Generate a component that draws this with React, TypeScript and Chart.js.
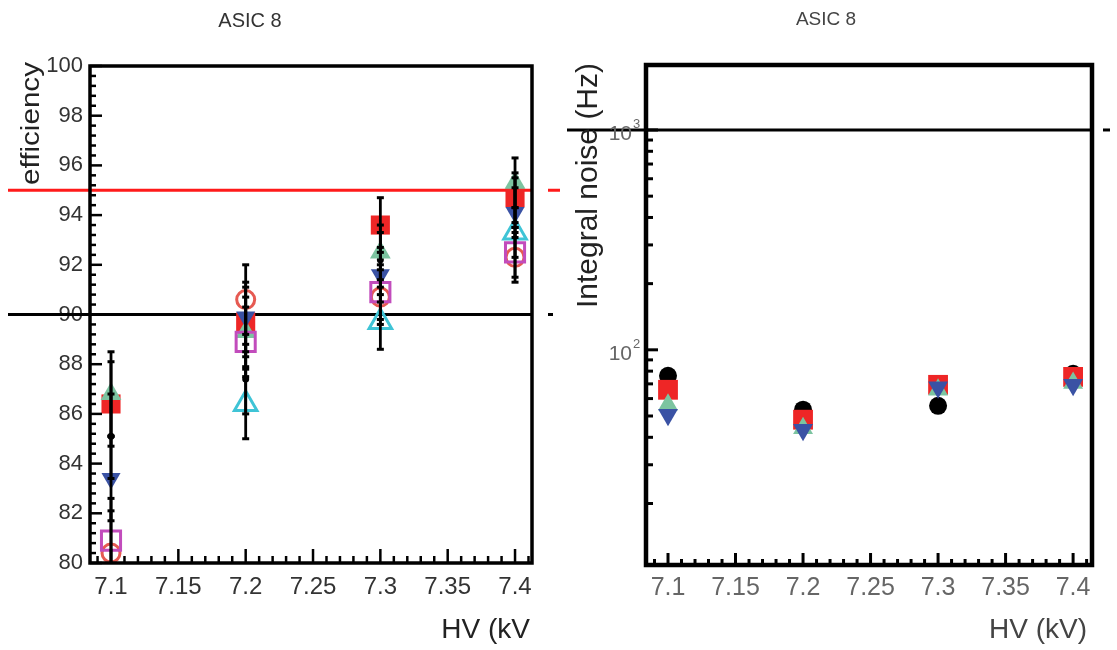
import React, { useEffect, useRef } from "react";
import { Chart, registerables } from "chart.js";

Chart.register(...registerables);

// ---------------- data ----------------
const HV = [7.1, 7.2, 7.3, 7.4];
const X_TICKS = [7.1, 7.15, 7.2, 7.25, 7.3, 7.35, 7.4];
const X_TICK_LABELS = ["7.1", "7.15", "7.2", "7.25", "7.3", "7.35", "7.4"];
const EFF_Y_TICKS = [80, 82, 84, 86, 88, 90, 92, 94, 96, 98, 100];
const EFF_Y_TICK_LABELS = ["80", "82", "84", "86", "88", "90", "92", "94", "96", "98", "100"];

// efficiency (%) per series
const EFF_BLACK = [85.1, 87.4, 92.2, 94.5];
const EFF_RED_SQUARE = [86.4, 89.7, 93.6, 94.7];
const EFF_GREEN_UP = [86.8, 89.3, 92.5, 95.3];
const EFF_BLUE_DOWN = [83.4, 89.9, 91.6, 94.1];
const EFF_RED_CIRCLE = [80.4, 90.6, 90.7, 92.3];
const EFF_MAGENTA_SQUARE = [80.9, 88.9, 90.9, 92.5];
const EFF_CYAN_UP: (number | null)[] = [null, 86.4, 89.7, 93.3];
const EFF_ERR = [1.7, 1.4, 1.1, 1.0];
const EFF_REF_HIGH = 95;
const EFF_REF_LOW = 90;

// integral noise (Hz) per series
const NOISE_BLACK = [76.2, 53.4, 55.6, 77.8];
const NOISE_RED = [65.8, 48.1, 69.3, 75.3];
const NOISE_GREEN = [56.2, 44.0, 65.8, 70.7];
const NOISE_BLUE = [50.7, 43.3, 67.6, 69.3];
const NOISE_REF = 1000;
const NOISE_Y_TICKS = [100, 1000];
const NOISE_Y_EXPONENTS = ["2", "3"];

const TITLE = "ASIC 8";
const EFF_Y_TITLE = "efficiency";
const NOISE_Y_TITLE = "Integral noise (Hz)";
const X_TITLE_LEFT = "HV (kV";
const X_TITLE_RIGHT = "HV (kV)";

// ---------------- styles ----------------
const FONT = "'Liberation Sans', Arial, Helvetica, sans-serif";
const C_RED = "#ee2626";
const C_GREEN = "#7cc4a0";
const C_BLUE = "#3a52a4";
const C_SALMON = "#e65a52";
const C_MAGENTA = "#c24cbc";
const C_CYAN = "#3fc4d6";

type Series = {
  values: (number | null)[];
  style: string;
  rotation: number;
  radius: number;
  fill: string;
  stroke: string;
  lw: number;
};

function makeDatasets(xs: number[], series: Series[]) {
  return series.map((s, i) => ({
    data: xs
      .map((x, j) => (s.values[j] == null ? null : { x, y: s.values[j] as number }))
      .filter((p) => p !== null),
    pointStyle: s.style,
    pointRotation: s.rotation,
    pointRadius: s.radius,
    pointHoverRadius: s.radius,
    backgroundColor: s.fill,
    borderColor: s.stroke,
    borderWidth: s.lw,
    pointBorderWidth: s.lw,
    showLine: false,
    order: series.length - i,
    clip: 0,
  }));
}

function line(ctx: CanvasRenderingContext2D, x1: number, y1: number, x2: number, y2: number, color: string, lw: number) {
  ctx.save();
  ctx.strokeStyle = color;
  ctx.lineWidth = lw;
  ctx.beginPath();
  ctx.moveTo(x1, y1);
  ctx.lineTo(x2, y2);
  ctx.stroke();
  ctx.restore();
}

function text(
  ctx: CanvasRenderingContext2D,
  str: string,
  x: number,
  y: number,
  o: { font: string; color: string; align: CanvasTextAlign; baseline: CanvasTextBaseline; rotate?: number; width?: number }
) {
  ctx.save();
  ctx.translate(x, y);
  if (o.rotate) ctx.rotate(o.rotate);
  ctx.font = o.font;
  ctx.fillStyle = o.color;
  ctx.textAlign = o.align;
  ctx.textBaseline = o.baseline;
  if (o.width) {
    const w = ctx.measureText(str).width;
    ctx.scale(o.width / w, 1);
  }
  ctx.fillText(str, 0, 0);
  ctx.restore();
}

function linearTicks(
  ctx: CanvasRenderingContext2D,
  scale: any,
  area: any,
  majors: number[],
  minorStep: number,
  horizontal: boolean,
  len: number,
  minorLen: number,
  lw: number
) {
  const draw = (v: number, l: number) => {
    const p = scale.getPixelForValue(v);
    if (horizontal) line(ctx, p, area.bottom, p, area.bottom - l, "#000", lw);
    else line(ctx, area.left, p, area.left + l, p, "#000", lw);
  };
  const start = Math.ceil(scale.min / minorStep - 1e-6);
  const end = Math.floor(scale.max / minorStep + 1e-6);
  for (let k = start; k <= end; k++) {
    const v = k * minorStep;
    if (majors.some((m) => Math.abs(m - v) < minorStep / 10)) continue;
    draw(v, minorLen);
  }
  majors.forEach((m) => draw(m, len));
}

// ---------------- left chart ----------------
const EFF_SERIES: Series[] = [
  { values: EFF_BLACK, style: "circle", rotation: 0, radius: 3.5, fill: "#000", stroke: "#000", lw: 0 },
  { values: EFF_RED_SQUARE, style: "rect", rotation: 0, radius: 13.5, fill: C_RED, stroke: C_RED, lw: 0 },
  { values: EFF_GREEN_UP, style: "triangle", rotation: 0, radius: 12, fill: C_GREEN, stroke: C_GREEN, lw: 0 },
  { values: EFF_BLUE_DOWN, style: "triangle", rotation: 180, radius: 11, fill: C_BLUE, stroke: C_BLUE, lw: 0 },
  { values: EFF_RED_CIRCLE, style: "circle", rotation: 0, radius: 9, fill: "rgba(0,0,0,0)", stroke: C_SALMON, lw: 3 },
  { values: EFF_MAGENTA_SQUARE, style: "rect", rotation: 0, radius: 13.5, fill: "rgba(0,0,0,0)", stroke: C_MAGENTA, lw: 3 },
  { values: EFF_CYAN_UP, style: "triangle", rotation: 0, radius: 13, fill: "rgba(0,0,0,0)", stroke: C_CYAN, lw: 3 },
];

const leftPlugin = {
  id: "leftDeco",
  beforeDatasetsDraw(chart: any) {
    const { ctx, chartArea: a, scales } = chart;
    const y = scales.y;
    const yh = y.getPixelForValue(EFF_REF_HIGH);
    line(ctx, 8, yh, a.right, yh, "#ff1a1a", 3);
    line(ctx, a.right + 16, yh, a.right + 28, yh, "#ff1a1a", 3);
    const yl = y.getPixelForValue(EFF_REF_LOW);
    line(ctx, 8, yl, a.right, yl, "#000", 3);
    line(ctx, a.right + 16, yl, a.right + 21, yl, "#000", 3);
  },
  afterDatasetsDraw(chart: any) {
    const { ctx, chartArea: a, scales } = chart;
    const xs = scales.x;
    const ys = scales.y;
    EFF_SERIES.forEach((s) => {
      HV.forEach((hv, j) => {
        const v = s.values[j];
        if (v == null) return;
        const px = xs.getPixelForValue(hv);
        const top = ys.getPixelForValue(v + EFF_ERR[j]);
        const bot = ys.getPixelForValue(v - EFF_ERR[j]);
        const t = Math.max(top, a.top);
        const b = Math.min(bot, a.bottom);
        line(ctx, px, t, px, b, "#000", 2.8);
        if (top >= a.top) line(ctx, px - 3.5, top, px + 3.5, top, "#000", 3);
        if (bot <= a.bottom) line(ctx, px - 3.5, bot, px + 3.5, bot, "#000", 3);
      });
    });
  },
  afterDraw(chart: any) {
    const { ctx, chartArea: a, scales } = chart;
    ctx.save();
    ctx.strokeStyle = "#000";
    ctx.lineWidth = 3.5;
    ctx.strokeRect(a.left, a.top, a.right - a.left, a.bottom - a.top);
    ctx.restore();
    linearTicks(ctx, scales.x, a, X_TICKS, 0.01, true, 14, 7, 2.5);
    linearTicks(ctx, scales.y, a, EFF_Y_TICKS, 0.4, false, 12, 6, 2.5);
    text(ctx, TITLE, 250, 27, { font: `20px ${FONT}`, color: "#333", align: "center", baseline: "alphabetic" });
    text(ctx, EFF_Y_TITLE, 39, 62, {
      font: `26px ${FONT}`,
      color: "#222",
      align: "right",
      baseline: "alphabetic",
      rotate: -Math.PI / 2,
      width: 123,
    });
    text(ctx, X_TITLE_LEFT, 530, 638, { font: `28px ${FONT}`, color: "#222", align: "right", baseline: "alphabetic" });
  },
};

// ---------------- right chart ----------------
const NOISE_SERIES: Series[] = [
  { values: NOISE_BLACK, style: "circle", rotation: 0, radius: 9, fill: "#000", stroke: "#000", lw: 0 },
  { values: NOISE_RED, style: "rect", rotation: 0, radius: 14, fill: C_RED, stroke: C_RED, lw: 0 },
  { values: NOISE_GREEN, style: "triangle", rotation: 0, radius: 11.5, fill: C_GREEN, stroke: C_GREEN, lw: 0 },
  { values: NOISE_BLUE, style: "triangle", rotation: 180, radius: 11.5, fill: C_BLUE, stroke: C_BLUE, lw: 0 },
];

const rightPlugin = {
  id: "rightDeco",
  beforeDatasetsDraw(chart: any) {
    const { ctx, chartArea: a, scales } = chart;
    const yr = scales.y.getPixelForValue(NOISE_REF);
    line(ctx, 7, yr, a.right, yr, "#000", 3);
    line(ctx, a.right + 11, yr, a.right + 18, yr, "#000", 3);
  },
  afterDraw(chart: any) {
    const { ctx, chartArea: a, scales } = chart;
    ctx.save();
    ctx.strokeStyle = "#000";
    ctx.lineWidth = 4.5;
    ctx.strokeRect(a.left, a.top, a.right - a.left, a.bottom - a.top);
    ctx.restore();
    linearTicks(ctx, scales.x, a, X_TICKS, 0.01, true, 12, 6, 3);
    // log ticks
    const ys = scales.y;
    const lo = Math.floor(Math.log10(ys.min));
    const hi = Math.ceil(Math.log10(ys.max));
    for (let d = lo; d <= hi; d++) {
      for (let k = 1; k <= 9; k++) {
        const v = k * Math.pow(10, d);
        if (v < ys.min || v > ys.max) continue;
        const p = ys.getPixelForValue(v);
        const major = k === 1;
        line(ctx, a.left, p, a.left + (major ? 12 : 7), p, "#000", 3);
      }
    }
    NOISE_Y_TICKS.forEach((v, i) => {
      const p = ys.getPixelForValue(v);
      text(ctx, "10", a.left - 14, p + 10, { font: `21px ${FONT}`, color: "#666", align: "right", baseline: "alphabetic" });
      text(ctx, NOISE_Y_EXPONENTS[i], a.left - 13, p - 2, { font: `13px ${FONT}`, color: "#666", align: "left", baseline: "alphabetic" });
    });
    text(ctx, TITLE, 266, 25, { font: `19px ${FONT}`, color: "#444", align: "center", baseline: "alphabetic" });
    text(ctx, NOISE_Y_TITLE, 37, 63, {
      font: `30px ${FONT}`,
      color: "#222",
      align: "right",
      baseline: "alphabetic",
      rotate: -Math.PI / 2,
      width: 245,
    });
    text(ctx, X_TITLE_RIGHT, 527, 638, { font: `28px ${FONT}`, color: "#444", align: "right", baseline: "alphabetic" });
  },
};

function xScale(min: number, max: number, height: number, size: number, color: string, pad: number) {
  return {
    type: "linear",
    min,
    max,
    afterBuildTicks: (s: any) => {
      s.ticks = X_TICKS.map((v) => ({ value: v }));
    },
    afterFit: (s: any) => {
      s.height = height;
    },
    ticks: {
      callback: (v: number) => {
        const i = X_TICKS.findIndex((t) => Math.abs(t - v) < 1e-6);
        return i >= 0 ? X_TICK_LABELS[i] : "";
      },
      font: { family: FONT, size },
      color,
      padding: pad,
      maxRotation: 0,
      autoSkip: false,
    },
    grid: { display: false, drawTicks: false },
    border: { display: false },
  };
}

export default function App() {
  const leftRef = useRef<HTMLCanvasElement>(null);
  const rightRef = useRef<HTMLCanvasElement>(null);

  useEffect(() => {
    const left = new Chart(leftRef.current as HTMLCanvasElement, {
      type: "scatter",
      data: { datasets: makeDatasets(HV, EFF_SERIES) as any },
      options: {
        animation: false,
        responsive: false,
        devicePixelRatio: 1,
        events: [],
        layout: { padding: { left: 0, right: 28, top: 66, bottom: 0 } },
        plugins: { legend: { display: false }, tooltip: { enabled: false } },
        scales: {
          x: xScale(7.0844, 7.4126, 87, 24, "#333", 10) as any,
          y: {
            type: "linear",
            min: 80,
            max: 100,
            afterBuildTicks: (s: any) => {
              s.ticks = EFF_Y_TICKS.map((v) => ({ value: v }));
            },
            afterFit: (s: any) => {
              s.width = 90;
            },
            ticks: {
              callback: (v: number) => {
                const i = EFF_Y_TICKS.indexOf(v);
                return i >= 0 ? EFF_Y_TICK_LABELS[i] : "";
              },
              font: { family: FONT, size: 22 },
              color: "#333",
              padding: 7,
              autoSkip: false,
            },
            grid: { display: false, drawTicks: false },
            border: { display: false },
          },
        },
      },
      plugins: [leftPlugin],
    });

    const right = new Chart(rightRef.current as HTMLCanvasElement, {
      type: "scatter",
      data: { datasets: makeDatasets(HV, NOISE_SERIES) as any },
      options: {
        animation: false,
        responsive: false,
        devicePixelRatio: 1,
        events: [],
        layout: { padding: { left: 0, right: 25, top: 65, bottom: 0 } },
        plugins: { legend: { display: false }, tooltip: { enabled: false } },
        scales: {
          x: xScale(7.0837, 7.414, 85, 25, "#666", 8) as any,
          y: {
            type: "logarithmic",
            min: 10.5,
            max: 1975,
            afterBuildTicks: (s: any) => {
              s.ticks = NOISE_Y_TICKS.map((v) => ({ value: v }));
            },
            afterFit: (s: any) => {
              s.width = 86;
            },
            ticks: { display: false },
            grid: { display: false, drawTicks: false },
            border: { display: false },
          },
        },
      },
      plugins: [rightPlugin],
    });

    return () => {
      left.destroy();
      right.destroy();
    };
  }, []);

  return (
    <div style={{ position: "absolute", left: 0, top: 0, width: 1117, height: 650, background: "#fff", overflow: "hidden" }}>
      <canvas ref={leftRef} width={560} height={650} style={{ position: "absolute", left: 0, top: 0, width: 560, height: 650 }} />
      <canvas ref={rightRef} width={557} height={650} style={{ position: "absolute", left: 560, top: 0, width: 557, height: 650 }} />
    </div>
  );
}
